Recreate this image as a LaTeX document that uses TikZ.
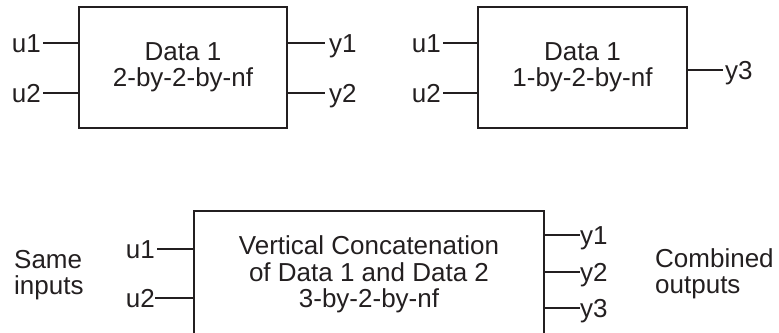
\documentclass[tikz,border=0pt]{standalone}
\usepackage{fontspec}
\setmainfont{Liberation Sans}
\definecolor{ink}{HTML}{231F20}
\begin{document}
\begin{tikzpicture}[x=1pt,y=-1pt,line join=miter,
	every node/.style={font=\fontsize{26}{26.5}\selectfont,text=ink},
	blk/.style={draw=ink,line width=2.6pt,align=center,inner sep=0pt,outer sep=0pt},
	pin/.style={inner sep=2pt,text height=18.6pt,text depth=0pt},
	wire/.style={draw=ink,line width=2.6pt}]
	\useasboundingbox (0,0) rectangle (779,332);
	\clip (0,0) rectangle (779,332);
	% first data set
	\node[blk,minimum width=208pt,minimum height=121pt] (d1) at (183,67.5) {Data 1\\2-by-2-by-nf};
	\coordinate (d1u1) at (43,43);
	\coordinate (d1u2) at (43,93);
	\coordinate (d1y1) at (325,43);
	\coordinate (d1y2) at (325,93);
	\draw[wire] (d1u1) -- (d1u1 -| d1.west);
	\draw[wire] (d1u2) -- (d1u2 -| d1.west);
	\draw[wire] (d1y1 -| d1.east) -- (d1y1);
	\draw[wire] (d1y2 -| d1.east) -- (d1y2);
	\node[pin,left] (t1u1) at (d1u1) {u1};
	\node[pin,left] (t1u2) at (d1u2) {u2};
	\node[pin,right,xshift=2pt] (t1y1) at (d1y1) {y1};
	\node[pin,right,xshift=2pt] (t1y2) at (d1y2) {y2};
	% second data set
	\node[blk,minimum width=209pt,minimum height=121pt] (d2) at (582.5,67.5) {Data 1\\1-by-2-by-nf};
	\coordinate (d2u1) at (443,43);
	\coordinate (d2u2) at (443,93);
	\coordinate (d2y3) at (723,70);
	\draw[wire] (d2u1) -- (d2u1 -| d2.west);
	\draw[wire] (d2u2) -- (d2u2 -| d2.west);
	\draw[wire] (d2y3 -| d2.east) -- (d2y3);
	\node[pin,left] (t2u1) at (d2u1) {u1};
	\node[pin,left] (t2u2) at (d2u2) {u2};
	\node[pin,right] (t2y3) at (d2y3) {y3};
	% concatenated data
	\node[blk,minimum width=350pt,minimum height=127pt] (d3) at (369,274.5) {Vertical Concatenation\\of Data 1 and Data 2\\3-by-2-by-nf};
	\coordinate (d3u1) at (157,249);
	\coordinate (d3u2) at (155,298);
	\coordinate (d3y1) at (580,235);
	\coordinate (d3y2) at (580,272);
	\coordinate (d3y3) at (580,308);
	\draw[wire] (d3u1) -- (d3u1 -| d3.west);
	\draw[wire] (d3u2) -- (d3u2 -| d3.west);
	\draw[wire] (d3y1 -| d3.east) -- (d3y1);
	\draw[wire] (d3y2 -| d3.east) -- (d3y2);
	\draw[wire] (d3y3 -| d3.east) -- (d3y3);
	\node[pin,left] (t3u1) at (d3u1) {u1};
	\node[pin,left,inner sep=0pt] (t3u2) at (d3u2) {u2};
	\node[pin,right,inner sep=0pt] (t3y1) at (d3y1) {y1};
	\node[pin,right,inner sep=0pt] (t3y2) at (d3y2) {y2};
	\node[pin,right,inner sep=0pt] (t3y3) at (d3y3) {y3};
	\node[align=left,anchor=west,inner sep=0pt] (same) at (14,275) {Same\\inputs};
	\node[align=left,anchor=west,inner sep=0pt] (comb) at (655,274) {Combined\\outputs};
\end{tikzpicture}
\end{document}
